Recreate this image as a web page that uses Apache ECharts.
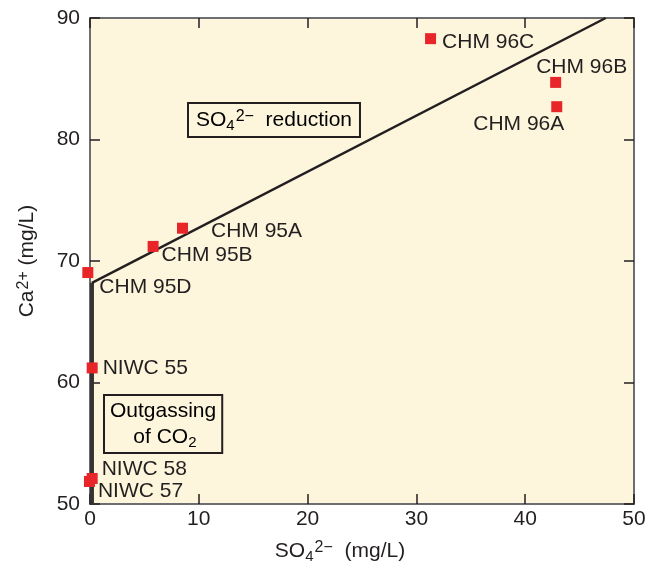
<!DOCTYPE html>
<html>
<head>
<meta charset="utf-8">
<script src="https://cdn.jsdelivr.net/npm/echarts@6/dist/echarts.min.js"></script>
<style>
  html, body { margin: 0; padding: 0; background: #fff; }
  #chart { width: 658px; height: 563px; }
</style>
</head>
<body>
<div id="chart"></div>
<script>
// sample names and measured values (SO4 mg/L, Ca mg/L)
var sampleNames = ['CHM 96C', 'CHM 96B', 'CHM 96A', 'CHM 95A', 'CHM 95B', 'CHM 95D', 'NIWC 55', 'NIWC 58', 'NIWC 57'];
var so4Values = [31.3, 42.8, 42.9, 8.5, 5.8, -0.2, 0.2, 0.2, -0.05];
var caValues = [88.3, 84.7, 82.7, 72.7, 71.2, 69.05, 61.2, 52.1, 51.85];

// trend lines
var reductionLine = [[0.18, 68.2], [47.4, 90]];
var outgassingLine = [[0.18, 50], [0.18, 68.2]];

var xTicks = [0, 10, 20, 30, 40, 50];
var yTicks = [50, 60, 70, 80, 90];

// label offsets relative to the right edge of each marker
var labelOffsets = [[6, 4], [-25, -15], [-89, 18], [23, 3], [3, 8.5], [6, 15], [5, 0], [4, -9], [3, 9.5]];

var FONT = '"Liberation Sans", Arial, sans-serif';
var INK = '#231f20';

var chart = echarts.init(document.getElementById('chart'));

var points = sampleNames.map(function (n, i) {
    return {
        name: n,
        value: [so4Values[i], caValues[i]],
        label: { offset: labelOffsets[i] }
    };
});

var richText = {
    n: { fontSize: 21, fontFamily: FONT, color: INK, lineHeight: 26 },
    sub: { fontSize: 15, fontFamily: FONT, color: INK, lineHeight: 12, verticalAlign: 'bottom' },
    sup: { fontSize: 16, fontFamily: FONT, color: INK, lineHeight: 16, verticalAlign: 'top', padding: [2, 0, 0, 1] }
};

function mirrorAxis(pos, min, max) {
    return {
        type: 'value', position: pos, min: min, max: max, interval: 10,
        axisLine: { show: true, onZero: false, lineStyle: { color: '#6d6e71', width: 2 } },
        axisTick: { show: true, inside: true, length: 10, lineStyle: { color: INK, width: 1.5 } },
        axisLabel: { show: false },
        splitLine: { show: false }
    };
}

chart.setOption({
    animation: false,
    backgroundColor: '#fff',
    grid: {
        left: 90, right: 24, top: 18, bottom: 59,
        outerBoundsMode: 'none',
        containLabel: false,
        show: true, backgroundColor: '#fdf6dc', borderWidth: 0
    },
    xAxis: [{
        type: 'value', position: 'bottom', min: 0, max: 50, interval: 10,
        axisLine: { show: true, onZero: false, lineStyle: { color: '#6d6e71', width: 2 } },
        axisTick: { show: true, inside: true, length: 10, lineStyle: { color: INK, width: 1.5 } },
        axisLabel: {
            fontSize: 21, fontFamily: FONT, color: INK, margin: 5,
            formatter: function (v) { return xTicks.indexOf(v) >= 0 ? String(v) : ''; }
        },
        splitLine: { show: false },
        name: '{n|SO}{sub|4}{sup|2−}{n|  (mg/L)}',
        nameLocation: 'middle',
        nameGap: 34,
        nameTextStyle: { rich: richText, padding: [0, 44, 0, 0] }
    }, mirrorAxis('top', 0, 50)],
    yAxis: [{
        type: 'value', position: 'left', min: 50, max: 90, interval: 10,
        axisLine: { show: true, onZero: false, lineStyle: { color: '#6d6e71', width: 2 } },
        axisTick: { show: true, inside: true, length: 10, lineStyle: { color: INK, width: 1.5 } },
        axisLabel: {
            fontSize: 21, fontFamily: FONT, color: INK, margin: 10,
            formatter: function (v) { return yTicks.indexOf(v) >= 0 ? String(v) : ''; }
        },
        splitLine: { show: false },
        name: '{n|Ca}{sup|2+}{n| (mg/L)}',
        nameLocation: 'middle',
        nameGap: 50,
        nameRotate: 90,
        nameTextStyle: { rich: richText }
    }, mirrorAxis('right', 50, 90)],
    graphic: [{
        type: 'text', left: 187, top: 102, z: 10,
        style: {
            text: '{n|SO}{sub|4}{sup|2−}{n|  reduction}',
            rich: richText,
            backgroundColor: '#fdf6dc', borderColor: INK, borderWidth: 2,
            padding: [3, 7, 3, 7]
        }
    }, {
        type: 'text', left: 103, top: 394, z: 10,
        style: {
            text: '{n|Outgassing}\n{n|    of CO}{sub|2}',
            rich: richText,
            backgroundColor: '#fdf6dc', borderColor: INK, borderWidth: 2,
            padding: [2, 5, 2, 5]
        }
    }],
    series: [{
        type: 'line',
        data: outgassingLine,
        symbol: 'none',
        lineStyle: { color: '#333', width: 4 },
        z: 2
    }, {
        type: 'line',
        data: reductionLine,
        symbol: 'none',
        lineStyle: { color: INK, width: 2.5 },
        z: 2
    }, {
        type: 'scatter',
        data: points,
        symbol: 'rect',
        symbolSize: 11,
        clip: false,
        itemStyle: { color: '#e8262a', opacity: 1 },
        label: {
            show: true,
            position: 'right',
            distance: 0,
            formatter: '{b}',
            fontSize: 21,
            fontFamily: FONT,
            color: INK
        },
        z: 5
    }]
});
</script>
</body>
</html>
